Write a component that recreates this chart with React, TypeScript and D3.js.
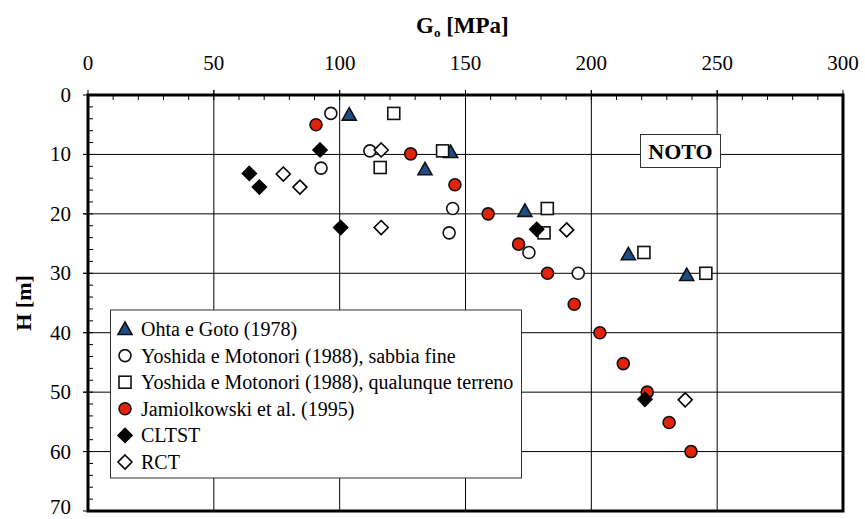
import React from "react";
import * as d3 from "d3";

const xTicks = [0, 50, 100, 150, 200, 250, 300];
const yTicks = [0, 10, 20, 30, 40, 50, 60, 70];

// [G0 (MPa), H (m)]
const ohtaGoto: [number, number][] = [
  [103.8, 3.3], [144.1, 9.6], [133.9, 12.5], [173.6, 19.5], [214.7, 26.8], [237.9, 30.3],
];
const yoshidaSabbia: [number, number][] = [
  [96.5, 3.1], [112, 9.4], [92.6, 12.3], [144.9, 19.1], [143.5, 23.2], [175.2, 26.5], [194.8, 30.0],
];
const yoshidaQualunque: [number, number][] = [
  [121.5, 3.1], [140.9, 9.4], [116.1, 12.2], [182.5, 19.1], [181.2, 23.2], [220.9, 26.5], [245.5, 30.0],
];
const jamiolkowski: [number, number][] = [
  [90.6, 5.0], [128.2, 9.9], [145.8, 15.1], [159, 20.0], [171.1, 25.1], [182.6, 30.0],
  [193.2, 35.2], [203.4, 40.0], [212.7, 45.2], [222.2, 50.0], [230.9, 55.1], [239.6, 60.0],
];
const cltst: [number, number][] = [
  [92.2, 9.25], [64.1, 13.2], [68.1, 15.5], [100.4, 22.3], [178.3, 22.6], [221.3, 51.2],
];
const rct: [number, number][] = [
  [116.5, 9.25], [77.6, 13.3], [84.2, 15.5], [116.5, 22.3], [190.2, 22.7], [237.3, 51.3],
];

const seriesNames = [
  "Ohta e Goto (1978)",
  "Yoshida e Motonori (1988), sabbia fine",
  "Yoshida e Motonori (1988), qualunque terreno",
  "Jamiolkowski et al. (1995)",
  "CLTST",
  "RCT",
];

type Shape = "triangle" | "circle" | "square" | "diamond";
const RED = "#e2230a";
const BLUE = "#1f4d86";

const styles: { shape: Shape; fill: string }[] = [
  { shape: "triangle", fill: BLUE },
  { shape: "circle", fill: "#ffffff" },
  { shape: "square", fill: "#ffffff" },
  { shape: "circle", fill: RED },
  { shape: "diamond", fill: "#000000" },
  { shape: "diamond", fill: "#ffffff" },
];
const seriesData = [ohtaGoto, yoshidaSabbia, yoshidaQualunque, jamiolkowski, cltst, rct];

const W = 865, H = 519;
const L = 88, T = 95, R = 843, B = 511;
const FONT = "Liberation Serif, Times New Roman, DejaVu Serif, serif";
const tStyle = { fontFamily: FONT };

function Marker({ shape, fill, x, y }: { shape: Shape; fill: string; x: number; y: number }) {
  const sw = 1.6;
  if (shape === "circle") return <circle cx={x} cy={y} r={6} fill={fill} stroke="#111" strokeWidth={sw} />;
  if (shape === "square") return <rect x={x - 6} y={y - 6} width={12} height={12} fill={fill} stroke="#111" strokeWidth={sw} />;
  if (shape === "triangle")
    return <path d={`M${x},${y - 7} L${x + 7},${y + 5.5} L${x - 7},${y + 5.5} Z`} fill={fill} stroke="#111" strokeWidth={sw} />;
  return <path d={`M${x},${y - 7} L${x + 7},${y} L${x},${y + 7} L${x - 7},${y} Z`} fill={fill} stroke="#000" strokeWidth={sw} />;
}

export default function App() {
  const x = d3.scaleLinear().domain([0, 300]).range([L, R]);
  const y = d3.scaleLinear().domain([0, 70]).range([T, B]);
  const xMinor = d3.range(0, 301, 10);
  const yMinor = d3.range(0, 71, 2);

  const legX = 110.5, legY = 310, legW = 411, legH = 168;

  return (
    <svg width={W} height={H} style={{ position: "absolute", left: 0, top: 0, background: "#fff", fontFamily: FONT }}>
      <rect x={0} y={0} width={W} height={H} fill="#fff" />
      {/* gridlines */}
      {xTicks.slice(1, -1).map((t) => (
        <line key={"gx" + t} x1={x(t)} x2={x(t)} y1={T - 5} y2={B} stroke="#000" strokeWidth={1} />
      ))}
      {yTicks.slice(1, -1).map((t) => (
        <line key={"gy" + t} x1={L - 5} x2={R} y1={y(t)} y2={y(t)} stroke="#000" strokeWidth={1} />
      ))}
      {/* minor ticks */}
      {xMinor.map((t) => (
        <line key={"mx" + t} x1={x(t)} x2={x(t)} y1={T} y2={T + 5} stroke="#000" strokeWidth={1} />
      ))}
      {yMinor.map((t) => (
        <line key={"my" + t} x1={L} x2={L + 5} y1={y(t)} y2={y(t)} stroke="#000" strokeWidth={1} />
      ))}
      {xTicks.map((t) => (
        <line key={"Mx" + t} x1={x(t)} x2={x(t)} y1={T - 5} y2={T} stroke="#000" strokeWidth={1} />
      ))}
      {yTicks.map((t) => (
        <line key={"My" + t} x1={L - 5} x2={L} y1={y(t)} y2={y(t)} stroke="#000" strokeWidth={1} />
      ))}
      {/* frame */}
      <rect x={L} y={T} width={R - L} height={B - T} fill="none" stroke="#000" strokeWidth={3} />

      {/* tick labels */}
      {xTicks.map((t) => (
        <text key={"xl" + t} x={x(t)} y={T - 25} textAnchor="middle" fontSize={21} style={tStyle}>{t}</text>
      ))}
      {yTicks.map((t) => (
        <text key={"yl" + t} x={71} y={Math.min(y(t) + 7, 514)} textAnchor="end" fontSize={21} style={tStyle}>{t}</text>
      ))}

      {/* axis titles */}
      <text x={416} y={33} fontSize={23} fontWeight="bold" style={tStyle}>
        G<tspan fontSize={13} dy={4}>o</tspan><tspan dy={-4}> [MPa]</tspan>
      </text>
      <text transform={`translate(31,${303}) rotate(-90)`} textAnchor="middle" fontSize={22} fontWeight="bold" style={tStyle}>H [m]</text>

      {/* NOTO label */}
      <rect x={640.5} y={134.5} width={80} height={33} fill="#fff" stroke="#333" strokeWidth={1} />
      <text x={680.5} y={159} textAnchor="middle" fontSize={22} fontWeight="bold" style={tStyle}>NOTO</text>

      {/* data */}
      {seriesData.map((data, i) =>
        data.map((d, j) => (
          <Marker key={`p${i}-${j}`} shape={styles[i].shape} fill={styles[i].fill} x={x(d[0])} y={y(d[1])} />
        ))
      )}

      {/* legend */}
      <rect x={legX} y={legY} width={legW} height={legH} fill="#fff" stroke="#333" strokeWidth={1} />
      {seriesNames.map((name, i) => {
        const cy = 329 + i * 26.6;
        return (
          <g key={"lg" + i}>
            <Marker shape={styles[i].shape} fill={styles[i].fill} x={125} y={cy} />
            <text x={141} y={cy + 7} fontSize={20} style={tStyle}>{name}</text>
          </g>
        );
      })}
    </svg>
  );
}
